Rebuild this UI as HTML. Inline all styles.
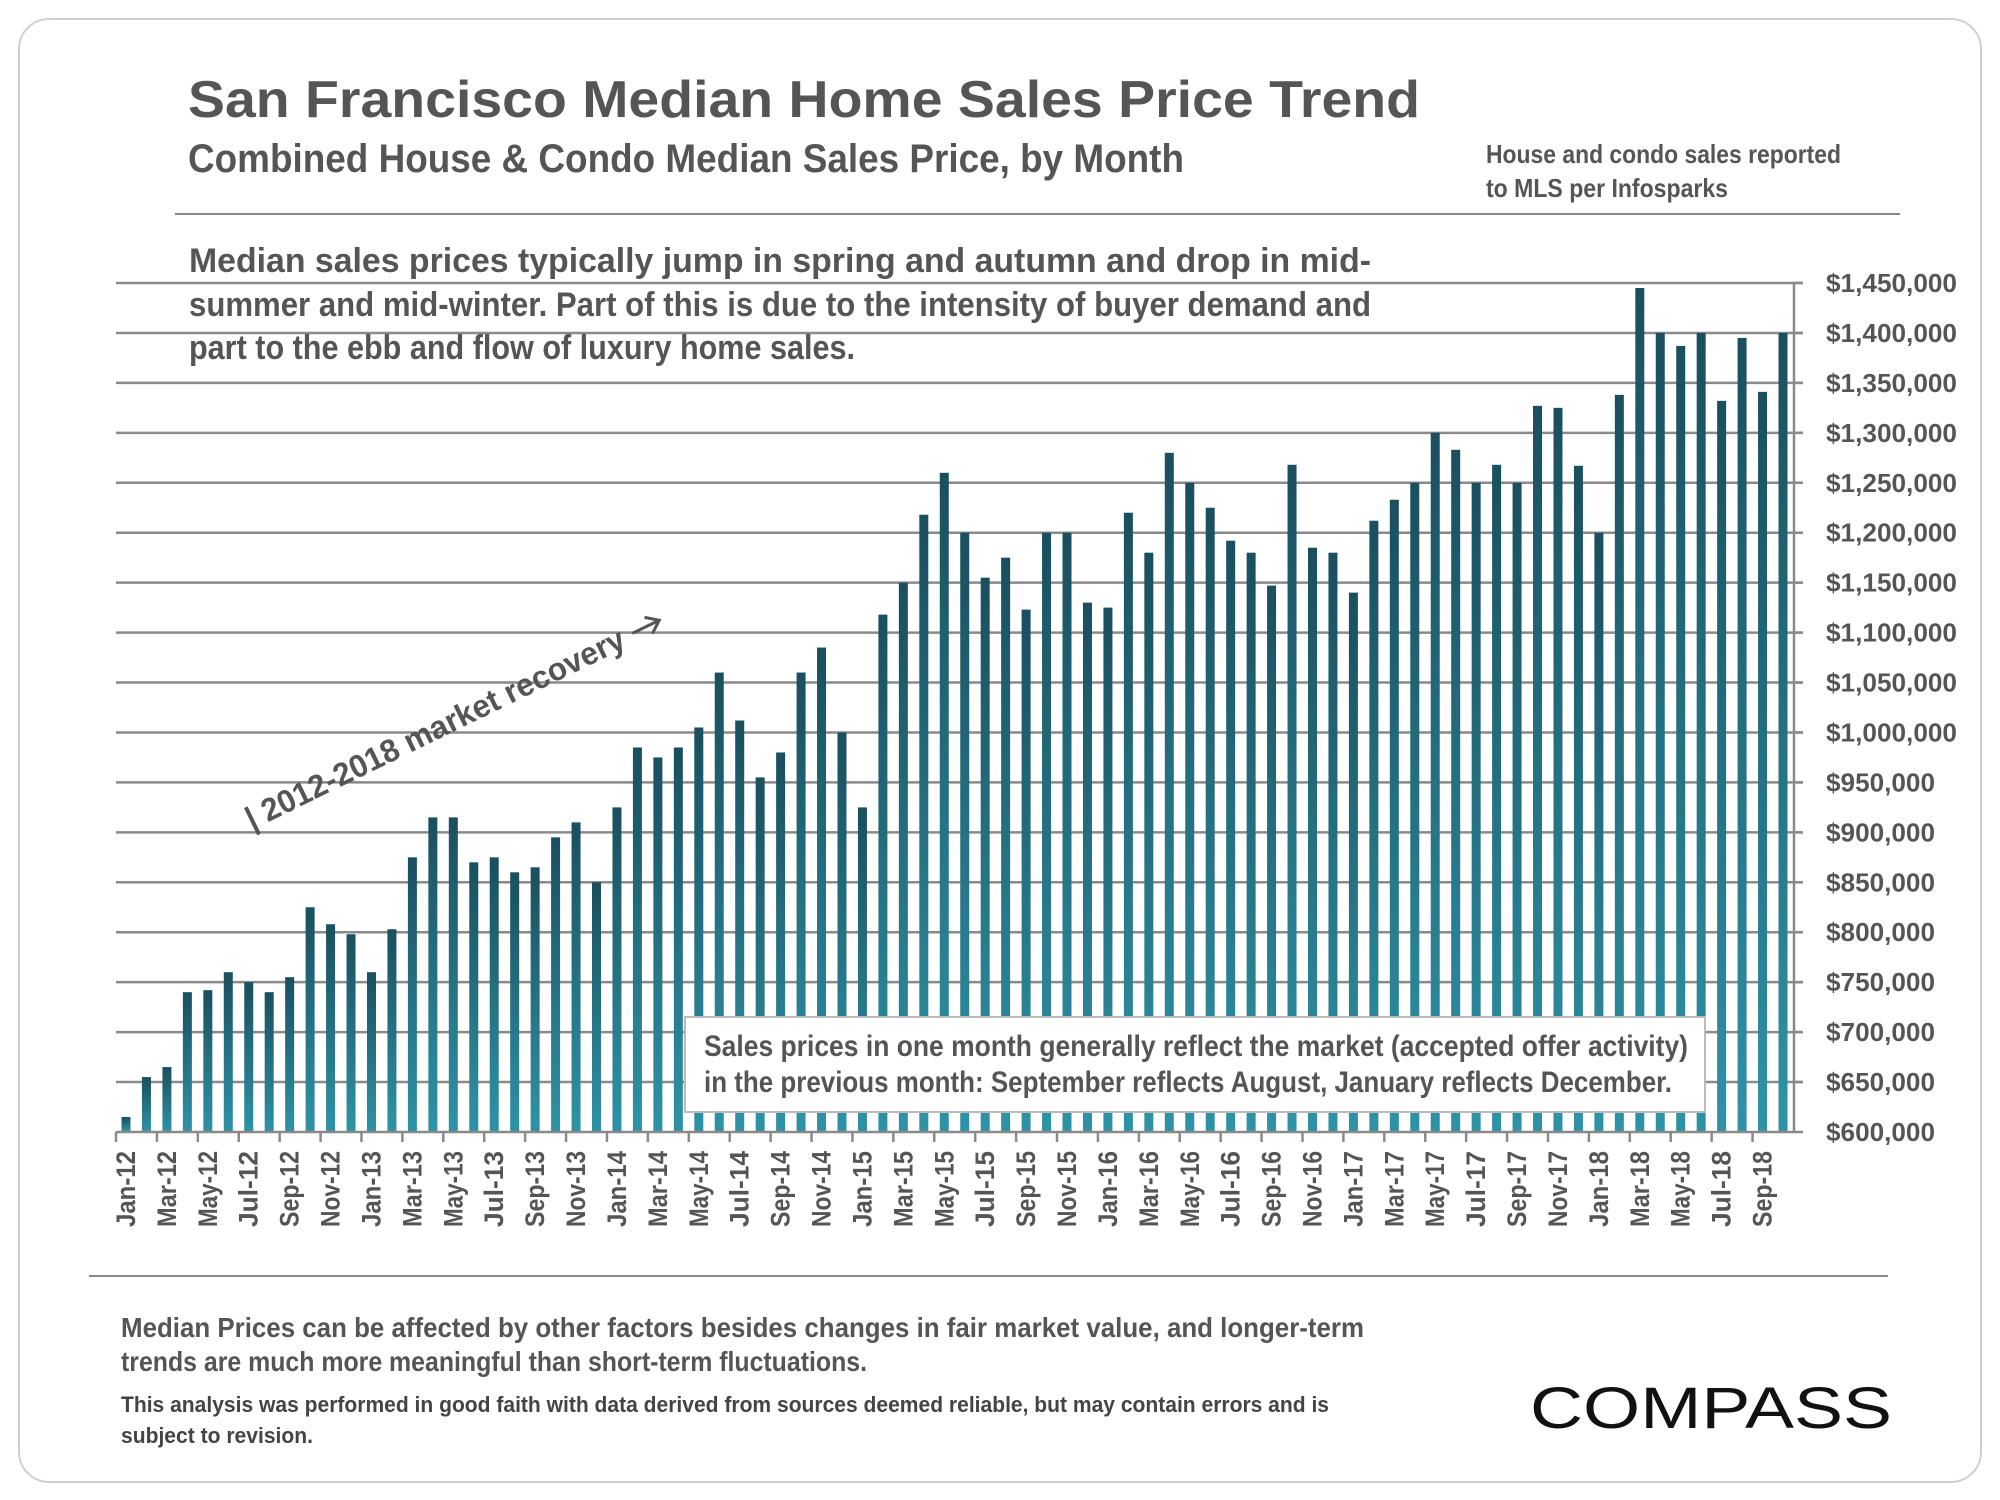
<!DOCTYPE html>
<html><head><meta charset="utf-8">
<style>
html,body{margin:0;padding:0;background:#fff;}
svg{display:block;font-family:"Liberation Sans",sans-serif;font-weight:bold;}
</style></head>
<body>
<svg id="chart" width="2000" height="1500" viewBox="0 0 2000 1500">
<defs>
<linearGradient id="barGrad" x1="0" y1="0" x2="0" y2="1">
<stop offset="0" stop-color="#1a4f5e"/>
<stop offset="1" stop-color="#2e93a6"/>
</linearGradient>
</defs>
<rect x="19" y="19" width="1962" height="1463" rx="30" fill="#fff" stroke="#cfcfcf" stroke-width="2"/>
<text x="188" y="117" font-size="52" fill="#555" textLength="1232" lengthAdjust="spacingAndGlyphs">San Francisco Median Home Sales Price Trend</text>
<text x="188" y="172" font-size="40" fill="#555" textLength="996" lengthAdjust="spacingAndGlyphs">Combined House &amp; Condo Median Sales Price, by Month</text>
<text x="1486" y="163" font-size="26" fill="#555" textLength="355" lengthAdjust="spacingAndGlyphs">House and condo sales reported</text>
<text x="1486" y="197" font-size="26" fill="#555" textLength="242" lengthAdjust="spacingAndGlyphs">to MLS per Infosparks</text>
<line x1="175" y1="214" x2="1900" y2="214" stroke="#888" stroke-width="2"/>
<g id="grid"></g>
<g id="bars"></g>
<g id="axes"></g>
<text x="189" y="272" font-size="34" fill="#555" textLength="1182" lengthAdjust="spacingAndGlyphs">Median sales prices typically jump in spring and autumn and drop in mid-</text>
<text x="189" y="316" font-size="34" fill="#555" textLength="1182" lengthAdjust="spacingAndGlyphs">summer and mid-winter. Part of this is due to the intensity of buyer demand and</text>
<text x="189" y="359" font-size="34" fill="#555" textLength="666" lengthAdjust="spacingAndGlyphs">part to the ebb and flow of luxury home sales.</text>
<g transform="translate(252,830) rotate(-26)">
<text x="0" y="0" font-size="32" fill="#555" textLength="418" lengthAdjust="spacingAndGlyphs">| 2012-2018 market recovery</text>
<path d="M428 -10 L458 -10 M446 -19 L458 -10 L446 -1" fill="none" stroke="#555" stroke-width="3"/>
</g>
<rect x="685" y="1017" width="1020" height="95" fill="#fff" stroke="#bbb" stroke-width="2"/>
<text x="704" y="1056" font-size="30" fill="#555" textLength="984" lengthAdjust="spacingAndGlyphs">Sales prices in one month generally reflect the market (accepted offer activity)</text>
<text x="704" y="1092" font-size="30" fill="#555" textLength="968" lengthAdjust="spacingAndGlyphs">in the previous month:  September reflects August, January reflects December.</text>
<line x1="89" y1="1276" x2="1888" y2="1276" stroke="#888" stroke-width="2"/>
<text x="121" y="1337" font-size="28" fill="#555" textLength="1243" lengthAdjust="spacingAndGlyphs">Median Prices can be affected by other factors besides changes in fair market value, and longer-term</text>
<text x="121" y="1371" font-size="28" fill="#555" textLength="746" lengthAdjust="spacingAndGlyphs">trends are much more meaningful than short-term fluctuations.</text>
<text x="121" y="1412" font-size="22" fill="#444" textLength="1208" lengthAdjust="spacingAndGlyphs">This analysis was performed in good faith with data derived from sources deemed reliable, but may contain errors and is</text>
<text x="121" y="1443" font-size="22" fill="#444" textLength="192" lengthAdjust="spacingAndGlyphs">subject to revision.</text>
<text x="1530" y="1428" font-size="58" font-weight="normal" fill="#111" textLength="362" lengthAdjust="spacingAndGlyphs">COMPASS</text>
</svg>
<script>
const months = ["Jan","Feb","Mar","Apr","May","Jun","Jul","Aug","Sep","Oct","Nov","Dec"];
const categories = [];
for (let y = 12; y <= 18; y++) { for (let m = 0; m < 12; m++) { if (y === 18 && m > 9) break; categories.push(months[m] + "-" + y); } }
const prices = [
615,655,665,740,742,760,750,740,755,825,808,798,
760,803,875,915,915,870,875,860,865,895,910,850,
925,985,975,985,1005,1060,1012,955,980,1060,1085,1000,
925,1118,1150,1218,1260,1200,1155,1175,1123,1200,1200,1130,
1125,1220,1180,1280,1250,1225,1192,1180,1147,1268,1185,1180,
1140,1212,1233,1250,1300,1283,1250,1268,1250,1327,1325,1267,
1200,1338,1445,1400,1387,1400,1332,1395,1341,1400];
const yTicks = [600,650,700,750,800,850,900,950,1000,1050,1100,1150,1200,1250,1300,1350,1400,1450];
const yTickLabels = ["$600,000","$650,000","$700,000","$750,000","$800,000","$850,000","$900,000","$950,000","$1,000,000","$1,050,000","$1,100,000","$1,150,000","$1,200,000","$1,250,000","$1,300,000","$1,350,000","$1,400,000","$1,450,000"];

const NS = "http://www.w3.org/2000/svg";
const Y0 = 1132, Y1 = 283, VMIN = 600, VMAX = 1450;
const X0 = 126, X1 = 1783;
function yScale(v){ return Y0 - (v - VMIN) / (VMAX - VMIN) * (Y0 - Y1); }
function xScale(i){ return X0 + i * (X1 - X0) / (categories.length - 1); }
function mk(tag, attrs, parent){ const e = document.createElementNS(NS, tag); for (const k in attrs) e.setAttribute(k, attrs[k]); parent.appendChild(e); return e; }

const grid = document.getElementById("grid");
const bars = document.getElementById("bars");
const axes = document.getElementById("axes");

yTicks.forEach((t, i) => {
  const y = yScale(t);
  if (i > 0) {
    const gl = mk("line", {x1: 116, x2: 1803, y1: y, y2: y, stroke: "#8a8a8a", "stroke-width": 2.5}, grid);
    
    
  }
  const lbl = mk("text", {x: 1826, y: y + 9, "font-size": 26, fill: "#555", textLength: yTickLabels[i].length > 8 ? 131 : 109, lengthAdjust: "spacingAndGlyphs"}, axes);
  lbl.textContent = yTickLabels[i];
  
  
});

prices.forEach((v, i) => {
  const x = xScale(i), y = yScale(v);
  const r = mk("rect", {x: x - 4.5, y: y, width: 9, height: Y0 - y, fill: "url(#barGrad)"}, bars);
  
  
});

const ax = mk("line", {x1: 116, x2: 1794, y1: Y0, y2: Y0, stroke: "#8a8a8a", "stroke-width": 2.5}, axes);


const ay = mk("line", {x1: 1794, x2: 1794, y1: Y1, y2: Y0, stroke: "#8a8a8a", "stroke-width": 2.5}, axes);


yTicks.forEach(t => {
  const tk = mk("line", {x1: 1794, x2: 1803, y1: yScale(t), y2: yScale(t), stroke: "#8a8a8a", "stroke-width": 2.5}, axes);
  
  
});
categories.forEach((c, i) => {
  const x = xScale(i);
  if (i % 2 === 0) {
    const tk = mk("line", {x1: x - 10, x2: x - 10, y1: Y0, y2: Y0 + 10, stroke: "#8a8a8a", "stroke-width": 2.5}, axes);
    
    
    const t = mk("text", {x: 0, y: 0, "font-size": 27, fill: "#555", "text-anchor": "end", transform: "translate(" + (x + 9) + "," + 1151 + ") rotate(-90)", textLength: 76, lengthAdjust: "spacingAndGlyphs"}, axes);
    t.textContent = c;
    
    
  }
});
</script>
</body></html>
